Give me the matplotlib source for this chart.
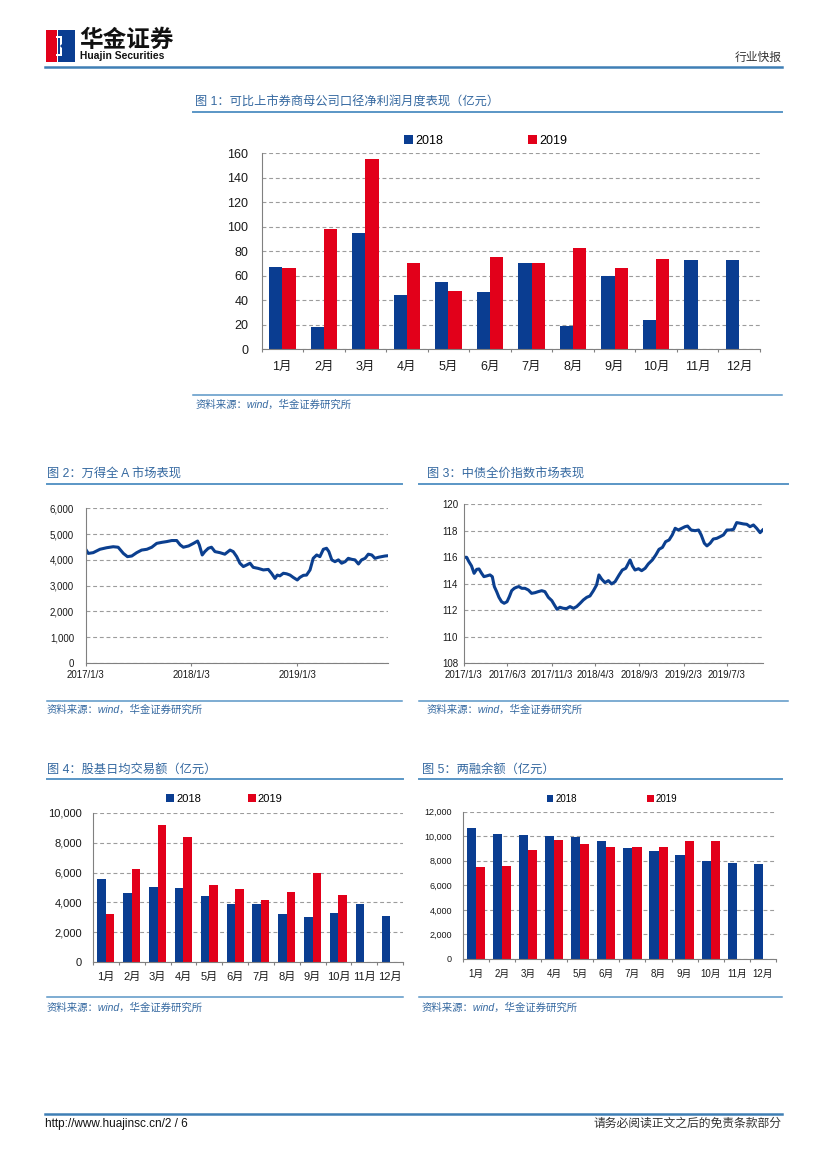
import numpy as np
import pandas as pd
import matplotlib
matplotlib.use("Agg")
import matplotlib.pyplot as plt
from matplotlib.lines import Line2D
from matplotlib.patches import Rectangle, Polygon
from matplotlib.ticker import FuncFormatter

plt.rcParams['font.family'] = ['Liberation Sans', 'Noto Sans CJK SC']

W, H = 827, 1169  # page size in pixels
BLUE = '#0a3d91'
RED = '#e2001a'
LINE_BLUE = '#0b3f8f'
TITLE = '#3468a0'
RULE = '#5a96c6'

months = [f'{i}月' for i in range(1, 13)]

# fig 1: net profit of listed brokers (parent company), 100m yuan
profit_2018 = [67, 18, 94.5, 44, 55, 47, 70, 19, 60, 24, 72.5, 73]
profit_2019 = [66, 98.5, 155.5, 70, 47.5, 75.5, 70, 82.5, 66.5, 73.5]

# fig 2: Wind All A index
wind_dates = ['2017-01-03', '2017-01-12', '2017-01-29', '2017-02-21', '2017-03-16', '2017-04-08',
              '2017-04-25', '2017-05-13', '2017-05-27', '2017-06-11', '2017-06-28', '2017-07-15',
              '2017-08-02', '2017-08-19', '2017-09-05', '2017-09-23', '2017-10-10', '2017-10-27',
              '2017-11-13', '2017-11-25', '2017-12-06', '2017-12-24', '2018-01-10', '2018-01-24',
              '2018-01-30', '2018-02-09', '2018-02-18', '2018-03-02', '2018-03-13', '2018-03-25',
              '2018-04-11', '2018-04-28', '2018-05-16', '2018-05-27', '2018-06-08', '2018-06-19',
              '2018-07-01', '2018-07-12', '2018-07-24', '2018-08-04', '2018-08-21', '2018-09-08',
              '2018-09-25', '2018-10-06', '2018-10-18', '2018-10-26', '2018-11-04', '2018-11-16',
              '2018-11-27', '2018-12-09', '2018-12-20', '2019-01-03', '2019-01-12', '2019-01-24',
              '2019-02-04', '2019-02-16', '2019-02-27', '2019-03-11', '2019-03-22', '2019-04-03',
              '2019-04-14', '2019-04-22', '2019-05-02', '2019-05-13', '2019-05-25', '2019-06-05',
              '2019-06-17', '2019-06-28', '2019-07-10', '2019-07-21', '2019-08-02', '2019-08-13',
              '2019-08-25', '2019-09-05', '2019-09-17', '2019-09-28', '2019-10-10', '2019-10-21',
              '2019-11-02', '2019-11-11']
wind_values = [4410, 4250, 4280, 4410, 4470, 4510, 4490, 4250, 4125, 4150, 4280, 4380,
               4410, 4490, 4640, 4680, 4710, 4750, 4750, 4580, 4490, 4540, 4640, 4730,
               4580, 4190, 4320, 4450, 4490, 4320, 4280, 4220, 4380, 4320, 4125, 3870,
               3740, 3800, 3870, 3710, 3670, 3610, 3630, 3480, 3280, 3410, 3380, 3480,
               3460, 3410, 3320, 3220, 3320, 3400, 3410, 3610, 4060, 4190, 4125, 4410,
               4450, 4320, 4000, 3930, 4000, 3870, 3930, 4060, 4020, 4000, 3840, 4000,
               4060, 4220, 4190, 4060, 4100, 4125, 4150, 4160]
wind_ticks = ['2017-01-03', '2018-01-03', '2019-01-03']
wind_tick_labels = ['2017/1/3', '2018/1/3', '2019/1/3']

# fig 3: ChinaBond full price index
bond_dates = ['2017-01-03', '2017-01-13', '2017-01-21', '2017-01-30', '2017-02-08', '2017-02-17',
              '2017-02-25', '2017-03-06', '2017-03-14', '2017-03-23', '2017-04-04', '2017-04-12',
              '2017-04-19', '2017-04-27', '2017-05-05', '2017-05-14', '2017-05-23', '2017-06-02',
              '2017-06-10', '2017-06-18', '2017-06-27', '2017-07-05', '2017-07-13', '2017-07-23',
              '2017-08-03', '2017-08-15', '2017-08-26', '2017-09-07', '2017-09-18', '2017-09-30',
              '2017-10-11', '2017-10-23', '2017-11-04', '2017-11-13', '2017-11-22', '2017-12-02',
              '2017-12-14', '2017-12-25', '2018-01-06', '2018-01-18', '2018-01-29', '2018-02-10',
              '2018-02-21', '2018-03-05', '2018-03-16', '2018-03-28', '2018-04-08', '2018-04-16',
              '2018-04-26', '2018-05-07', '2018-05-19', '2018-05-30', '2018-06-11', '2018-06-25',
              '2018-07-06', '2018-07-18', '2018-08-02', '2018-08-10', '2018-08-19', '2018-08-31',
              '2018-09-11', '2018-09-23', '2018-10-04', '2018-10-18', '2018-10-30', '2018-11-10',
              '2018-11-22', '2018-12-03', '2018-12-15', '2018-12-26', '2019-01-05', '2019-01-16',
              '2019-01-28', '2019-02-08', '2019-02-17', '2019-03-01', '2019-03-15', '2019-03-27',
              '2019-04-05', '2019-04-16', '2019-04-25', '2019-05-06', '2019-05-17', '2019-05-29',
              '2019-06-10', '2019-06-21', '2019-07-03', '2019-07-14', '2019-07-26', '2019-08-06',
              '2019-08-18', '2019-08-29', '2019-09-10', '2019-09-21', '2019-10-03', '2019-10-14',
              '2019-10-26', '2019-11-04']
bond_values = [116.0, 116.0, 115.67, 115.35, 114.79, 115.09, 115.12, 114.79, 114.54, 114.59,
               114.67, 114.54, 113.79, 113.41, 112.98, 112.65, 112.53, 112.65, 113.03, 113.48,
               113.66, 113.74, 113.79, 113.66, 113.66, 113.53, 113.28, 113.33, 113.41, 113.48,
               113.41, 112.98, 112.73, 112.40, 112.08, 112.23, 112.15, 112.13, 112.28, 112.15,
               112.28, 112.53, 112.78, 112.98, 113.08, 113.48, 113.91, 114.67, 114.34, 114.09,
               114.24, 113.99, 114.16, 114.67, 115.04, 115.17, 115.80, 115.35, 115.04, 115.14,
               114.99, 115.17, 115.50, 115.80, 116.18, 116.60, 116.75, 117.18, 117.31, 117.69,
               118.19, 118.06, 118.19, 118.31, 118.36, 118.06, 118.01, 118.06, 117.69, 117.06,
               116.86, 117.06, 117.38, 117.43, 117.56, 117.69, 118.06, 118.06, 118.11, 118.62,
               118.57, 118.52, 118.49, 118.31, 118.44, 118.19, 117.86, 118.06]
bond_ticks = ['2017-01-03', '2017-06-03', '2017-11-03', '2018-04-03', '2018-09-03',
              '2019-02-03', '2019-07-03']
bond_tick_labels = ['2017/1/3', '2017/6/3', '2017/11/3', '2018/4/3', '2018/9/3',
                    '2019/2/3', '2019/7/3']

# fig 4: average daily turnover of stocks and funds, 100m yuan
turnover_2018 = [5550, 4630, 5010, 4940, 4430, 3890, 3890, 3190, 2990, 3280, 3910, 3060]
turnover_2019 = [3190, 6220, 9210, 8360, 5190, 4900, 4160, 4720, 6000, 4470]

# fig 5: margin balance, 100m yuan
margin_2018 = [10650, 10210, 10080, 10020, 9970, 9620, 9080, 8800, 8510, 7960, 7830, 7750]
margin_2019 = [7500, 7590, 8860, 9700, 9370, 9130, 9160, 9100, 9620, 9620]


fig = plt.figure(figsize=(W / 100, H / 100), dpi=100)


def add_ax(l, t, r, b):
    return fig.add_axes([l / W, 1 - b / H, (r - l) / W, (b - t) / H])


def ftext(x, y, s, **kw):
    kw.setdefault('va', 'center')
    fig.text(x / W, 1 - y / H, s, **kw)


def hline(x0, x1, y, color=RULE, lw=1.2):
    fig.add_artist(Line2D([x0 / W, x1 / W], [1 - y / H, 1 - y / H],
                          transform=fig.transFigure, color=color, lw=lw))


def style(ax, fs, ypad, xpad):
    for s in ['top', 'right']:
        ax.spines[s].set_visible(False)
    for s in ['left', 'bottom']:
        ax.spines[s].set_color('#808080')
        ax.spines[s].set_linewidth(0.8)
    ax.yaxis.grid(True, linestyle=(0, (3.5, 2.5)), color='#9c9c9c', lw=0.8)
    ax.set_axisbelow(True)
    ax.tick_params(axis='y', length=0, labelsize=fs, pad=ypad, labelcolor='#1a1a1a')
    ax.tick_params(axis='x', labelsize=fs, pad=xpad, labelcolor='#1a1a1a', color='#808080')


def bars(ax, v18, v19, w, fs, ypad, xpad, ymax, step, legend_xy, colsp, fmt=None):
    x = np.arange(len(months))
    ax.bar(x - w / 2, v18, w, color=BLUE, label='2018')
    ax.bar(np.arange(len(v19)) + w / 2, v19, w, color=RED, label='2019')
    ax.set_xlim(-0.5, len(months) - 0.5)
    ax.set_ylim(0, ymax)
    ax.set_yticks(np.arange(0, ymax + 1, step))
    if fmt:
        ax.yaxis.set_major_formatter(FuncFormatter(fmt))
    ax.set_xticks(x)
    ax.set_xticklabels(months)
    ax.set_xticks(np.arange(-0.5, len(months), 1), minor=True)
    style(ax, fs, ypad, xpad)
    ax.tick_params(axis='x', which='major', length=0)
    ax.tick_params(axis='x', which='minor', length=2.2, width=0.8, color='#808080')
    ax.legend(loc='center', bbox_to_anchor=(legend_xy[0] / W, 1 - legend_xy[1] / H),
              bbox_transform=fig.transFigure, ncol=2, frameon=False, fontsize=fs,
              handlelength=0.7, handleheight=0.7, handletextpad=0.2,
              columnspacing=colsp, borderpad=0, borderaxespad=0)


comma = lambda v, p: f'{v:,.0f}'
TFS = 8.8  # figure title size
SFS = 7.5  # source note size

# ---- header ----
fig.add_artist(Rectangle((46 / W, 1 - 62 / H), 11 / W, 32 / H, transform=fig.transFigure,
                         color='#e2001a', lw=0))
fig.add_artist(Rectangle((58 / W, 1 - 62 / H), 17 / W, 32 / H, transform=fig.transFigure,
                         color='#0a3d91', lw=0))
fig.add_artist(Polygon([(56 / W, 1 - 36 / H), (62 / W, 1 - 36 / H), (62 / W, 1 - 44 / H),
                        (60 / W, 1 - 46 / H), (62 / W, 1 - 48 / H), (62 / W, 1 - 56 / H),
                        (56 / W, 1 - 56 / H), (56 / W, 1 - 54 / H), (60 / W, 1 - 54 / H),
                        (60 / W, 1 - 38 / H), (56 / W, 1 - 38 / H)],
                       closed=True, transform=fig.transFigure, color='white', lw=0))
ftext(79, 40, '华金证券', fontsize=17, fontweight='bold', color='#111111',
      family=['Noto Sans CJK SC'])
ftext(80, 56, 'Huajin Securities', fontsize=7.4, fontweight='bold', color='#111111')
ftext(782, 58, '行业快报', fontsize=8.5, color='#333333', ha='right')
hline(45, 782, 67, color='#3f7fb5', lw=1.8)

# ---- figure 1 ----
ftext(195, 103, '图 1：可比上市券商母公司口径净利润月度表现（亿元）', fontsize=TFS, color=TITLE)
hline(193, 782, 112, lw=1.4)
ax1 = add_ax(261.5, 153.3, 760, 349)
bars(ax1, profit_2018, profit_2019, 0.32, 9, 9.5, 8.3, 160, 20, (486, 141), 6.8)
hline(193, 782, 395, lw=1.1)
ftext(196, 405, '资料来源：wind，华金证券研究所', fontsize=SFS, color=TITLE, style='italic')

# ---- figure 2 ----
ftext(47, 475, '图 2：万得全 A 市场表现', fontsize=TFS, color=TITLE)
hline(47, 402, 484, lw=1.4)
ax2 = add_ax(85.7, 508.3, 387.7, 663)
ax2.plot(pd.to_datetime(wind_dates), wind_values, color=LINE_BLUE, lw=2.2)
ax2.set_xlim(pd.Timestamp(wind_dates[0]), pd.Timestamp(wind_dates[-1]))
ax2.set_ylim(0, 6000)
ax2.set_yticks(np.arange(0, 6001, 1000))
ax2.yaxis.set_major_formatter(FuncFormatter(comma))
ax2.set_xticks(pd.to_datetime(wind_ticks))
ax2.set_xticklabels(wind_tick_labels)
style(ax2, 7, 8.4, 2.5)
ax2.tick_params(axis='x', length=2.2, width=0.8)
hline(47, 402, 700.7, lw=1.1)
ftext(47, 710, '资料来源：wind，华金证券研究所', fontsize=SFS, color=TITLE, style='italic')

# ---- figure 3 ----
ftext(427, 475, '图 3：中债全价指数市场表现', fontsize=TFS, color=TITLE)
hline(419, 788, 484, lw=1.4)
ax3 = add_ax(463.7, 504.3, 762.7, 663.3)
ax3.plot(pd.to_datetime(bond_dates), bond_values, color=LINE_BLUE, lw=2.2)
ax3.set_xlim(pd.Timestamp(bond_dates[0]), pd.Timestamp(bond_dates[-1]))
ax3.set_ylim(108, 120)
ax3.set_yticks(np.arange(108, 121, 2))
ax3.set_xticks(pd.to_datetime(bond_ticks))
ax3.set_xticklabels(bond_tick_labels)
style(ax3, 7, 4.1, 2.9)
ax3.tick_params(axis='x', length=2.2, width=0.8)
hline(419, 788, 700.7, lw=1.1)
ftext(427, 710, '资料来源：wind，华金证券研究所', fontsize=SFS, color=TITLE, style='italic')

# ---- figure 4 ----
ftext(47, 770, '图 4：股基日均交易额（亿元）', fontsize=TFS, color=TITLE)
hline(47, 403, 779, lw=1.4)
ax4 = add_ax(93, 813, 403, 962)
bars(ax4, turnover_2018, turnover_2019, 0.33, 8, 7.9, 7.4, 10000, 2000, (224.5, 799), 4.2,
     fmt=comma)
hline(47, 403, 997, lw=1.1)
ftext(47, 1008, '资料来源：wind，华金证券研究所', fontsize=SFS, color=TITLE, style='italic')

# ---- figure 5 ----
ftext(422, 770, '图 5：两融余额（亿元）', fontsize=TFS, color=TITLE)
hline(419, 782, 779, lw=1.4)
ax5 = add_ax(462.7, 811.7, 776, 959)
bars(ax5, margin_2018, margin_2019, 0.35, 7, 7.7, 7.2, 12000, 2000, (612, 799), 7.2,
     fmt=comma)
ax5.tick_params(axis='y', labelsize=6.5)
hline(419, 782, 997, lw=1.1)
ftext(422, 1008, '资料来源：wind，华金证券研究所', fontsize=SFS, color=TITLE, style='italic')

# ---- footer ----
hline(45, 782, 1114, color='#3f7fb5', lw=1.8)
ftext(45, 1124, 'http://www.huajinsc.cn/2 / 6', fontsize=8.5, color='#111111')
ftext(782, 1124, '请务必阅读正文之后的免责条款部分', fontsize=8.5, color='#333333', ha='right')

fig.savefig('out.png', dpi=100)
